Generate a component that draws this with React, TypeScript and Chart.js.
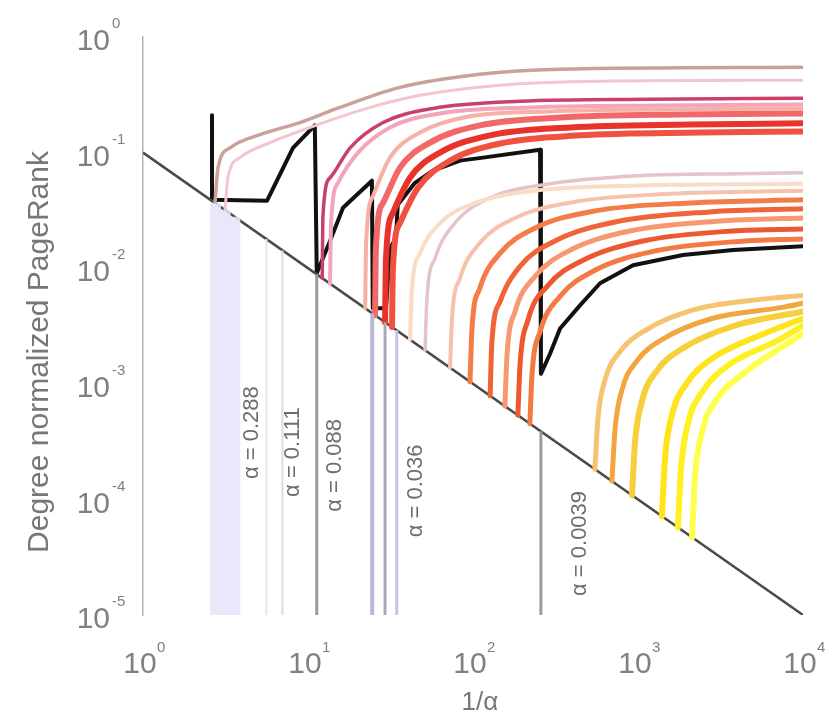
import { useEffect, useRef } from 'react';
import { Chart, registerables } from 'chart.js';

Chart.register(...registerables);

// ---- axis ticks ----
const xTicks = [1, 10, 100, 1000, 10000];
const xTickExp = ['0', '1', '2', '3', '4'];
const yTicks = [1, 0.1, 0.01, 0.001, 0.0001, 0.00001];
const yTickExp = ['0', '-1', '-2', '-3', '-4', '-5'];

// ---- reference diagonal ----
const diagonalX = [1, 10000];
const diagonalY = [0.1, 0.00001];

// ---- vertical alpha markers (from diagonal down to axis) ----
const vlineX = [2.75, 3.15, 3.6, 5.6, 7.0, 11.3, 24.5, 29.3, 34.5, 258];
const vlineTop = [0.0364, 0.0317, 0.0278, 0.0179, 0.0143, 0.00885, 0.00408, 0.00341, 0.0029, 0.000388];
const vlineBottom = 0.00001;
const vlineColor = [
  'rgba(230,230,250,0.9)', 'rgba(230,230,250,0.9)', 'rgba(230,230,250,0.9)',
  '#e6e6e6', '#dcdcdc', '#9a9a9a', '#b8b8d8', '#a8a8b8', '#c4c4e4', '#9a9a9a',
];
const vlineWidth = [11, 11, 11, 2, 2, 3, 4, 3, 3, 3];

// ---- alpha labels ----
const alphaLabels = ['α = 0.288', 'α = 0.111', 'α = 0.088', 'α = 0.036', 'α = 0.0039'];
const alphaLabelX = [4.58, 8.1, 14.6, 45.2, 445];
const alphaLabelY = [0.00015, 0.000105, 0.000078, 0.000047, 0.0000146];

// ---- black highlighted path ----
const blackX = [2.62, 2.62, 5.64, 8.11, 11.0, 11.3, 13.6, 16.3, 24.4, 24.7, 29.7, 31.4, 34.1, 35.0, 44.5, 57.2, 83.4, 115, 255, 258, 293, 337, 445, 589, 933, 1874, 3766, 10000];
const blackY = [0.21, 0.039, 0.0383, 0.11, 0.172, 0.00906, 0.0172, 0.0333, 0.0571, 0.0045, 0.0045, 0.0149, 0.0182, 0.0354, 0.0548, 0.0697, 0.0852, 0.0905, 0.106, 0.00122, 0.00182, 0.00301, 0.00477, 0.00741, 0.0106, 0.013, 0.0144, 0.0155];

// ---- coloured PageRank curves: [1/alpha, value] ----
const T1: [number, number][] = [[2.73, 0.0367], [2.85, 0.0741], [3.37, 0.110], [5.12, 0.143], [8.94, 0.182], [15.6, 0.246], [36.1, 0.367], [110, 0.477], [337, 0.527], [10000, 0.548]];
const T2: [number, number][] = [[3.14, 0.0318], [3.27, 0.0606], [3.87, 0.0905], [5.89, 0.122], [10.3, 0.165], [20.7, 0.232], [47.8, 0.313], [146, 0.383], [589, 0.414], [10000, 0.423]];
const M1: [number, number][] = [[12.2, 0.0082], [12.3, 0.0272], [13.6, 0.0606], [18.0, 0.110], [28.5, 0.182], [57.2, 0.241], [193, 0.278], [1183, 0.289], [10000, 0.295]];
const M2: [number, number][] = [[13.6, 0.00735], [13.8, 0.0246], [15.2, 0.0548], [20.1, 0.1], [31.4, 0.165], [63.1, 0.218], [221, 0.246], [1360, 0.256], [10000, 0.261]];
const R4: [number, number][] = [[22.2, 0.0045], [22.5, 0.0165], [24.8, 0.0423], [31.4, 0.0905], [47.8, 0.149], [95.9, 0.206], [293, 0.227], [1798, 0.237], [10000, 0.241]];
const R1: [number, number][] = [[25.5, 0.00392], [25.8, 0.0149], [28.5, 0.0367], [36.1, 0.0741], [54.9, 0.122], [110, 0.172], [337, 0.201], [1798, 0.214], [10000, 0.218]];
const R2: [number, number][] = [[29.3, 0.00341], [29.7, 0.0122], [32.7, 0.0301], [41.5, 0.0606], [63.1, 0.1], [127, 0.141], [387, 0.165], [2066, 0.175], [10000, 0.179]];
const R3: [number, number][] = [[32.3, 0.0031], [32.7, 0.01], [36.1, 0.0246], [46.4, 0.0496], [72.6, 0.0852], [146, 0.120], [445, 0.141], [2376, 0.149], [10000, 0.152]];
const P2: [number, number][] = [[41.5, 0.00241], [42.7, 0.0067], [47.8, 0.0135], [63.1, 0.0246], [103, 0.0367], [238, 0.0468], [895, 0.0516], [10000, 0.0537]];
const P1: [number, number][] = [[51.2, 0.00195], [52.6, 0.00548], [58.9, 0.0122], [77.8, 0.0246], [127, 0.0406], [293, 0.0537], [1028, 0.0631], [4152, 0.0657], [10000, 0.067]];
const P3: [number, number][] = [[72.6, 0.00138], [74.6, 0.00367], [83.4, 0.00818], [110, 0.0165], [180, 0.0272], [415, 0.0375], [1563, 0.044], [10000, 0.0468]];
const O1: [number, number][] = [[95.9, 0.00104], [98.6, 0.00301], [110, 0.0067], [146, 0.0135], [238, 0.0223], [548, 0.0313], [2066, 0.0367], [10000, 0.039]];
const O2: [number, number][] = [[127, 0.000787], [130, 0.00223], [146, 0.00516], [193, 0.0104], [314, 0.0172], [726, 0.0251], [2730, 0.0307], [10000, 0.0326]];
const O3: [number, number][] = [[156, 0.000641], [161, 0.00182], [180, 0.00423], [238, 0.00851], [387, 0.0143], [895, 0.021], [3141, 0.0256], [10000, 0.0272]];
const O4: [number, number][] = [[187, 0.000535], [193, 0.00149], [215, 0.00353], [285, 0.00711], [464, 0.0117], [1072, 0.0172], [3766, 0.021], [10000, 0.0218]];
const O5: [number, number][] = [[221, 0.000452], [228, 0.00122], [255, 0.00283], [337, 0.00571], [548, 0.0096], [1268, 0.0141], [4450, 0.0172], [10000, 0.0179]];
const Y1: [number, number][] = [[548, 0.000182], [572, 0.000501], [631, 0.00108], [778, 0.0019], [1102, 0.00289], [2215, 0.0044], [5888, 0.00543], [10000, 0.00582]];
const Y2: [number, number][] = [[695, 0.000144], [726, 0.000406], [800, 0.000887], [986, 0.00158], [1397, 0.00241], [2806, 0.00367], [7460, 0.00458], [10000, 0.00497]];
const Y3: [number, number][] = [[920, 0.000109], [960, 0.000316], [1058, 0.000711], [1303, 0.0013], [1849, 0.00201], [3715, 0.00313], [10000, 0.00423]];
const Y4: [number, number][] = [[1397, 0.0000716], [1458, 0.000227], [1607, 0.000537], [1982, 0.00102], [2806, 0.00165], [5646, 0.00267], [10000, 0.00367]];
const Y5: [number, number][] = [[1746, 0.0000573], [1824, 0.000186], [2009, 0.000454], [2477, 0.000869], [3512, 0.00144], [7050, 0.00237], [10000, 0.00319]];
const Y6: [number, number][] = [[2125, 0.000047], [2215, 0.000154], [2443, 0.000383], [3013, 0.000741], [4266, 0.0012], [10000, 0.00272]];

const curves: { pts: [number, number][]; color: string; width: number }[] = [
  { pts: T2, color: '#f2c6ce', width: 3 },
  { pts: T1, color: '#c9a29a', width: 3.5 },
  { pts: M2, color: '#f4a6b8', width: 4 },
  { pts: M1, color: '#c8406e', width: 3.5 },
  { pts: R4, color: '#f7b0a8', width: 4 },
  { pts: R1, color: '#f26868', width: 6 },
  { pts: R2, color: '#e8322a', width: 6 },
  { pts: R3, color: '#f05040', width: 6 },
  { pts: P2, color: '#f8dcc8', width: 4 },
  { pts: P1, color: '#e4c4c8', width: 3.5 },
  { pts: P3, color: '#f6c2ac', width: 4 },
  { pts: O1, color: '#f47c48', width: 5 },
  { pts: O2, color: '#f06438', width: 5 },
  { pts: O3, color: '#f89870', width: 5 },
  { pts: O4, color: '#ee5830', width: 5 },
  { pts: O5, color: '#f47a44', width: 5 },
  { pts: Y1, color: '#f6c470', width: 5 },
  { pts: Y2, color: '#f1a640', width: 5 },
  { pts: Y3, color: '#f6cf3a', width: 6 },
  { pts: Y4, color: '#ffe41c', width: 6 },
  { pts: Y5, color: '#fff024', width: 6 },
  { pts: Y6, color: '#ffff50', width: 6 },
];

const FONT = 'Arial, "Liberation Sans", sans-serif';

const overlay = {
  id: 'overlay',
  beforeDatasetsDraw(chart: any) {
    const { ctx } = chart;
    const xs = chart.scales.x;
    const ys = chart.scales.y;
    ctx.save();
    ctx.font = `22px ${FONT}`;
    ctx.fillStyle = '#6e6e6e';
    ctx.textAlign = 'left';
    ctx.textBaseline = 'middle';
    alphaLabels.forEach((t, i) => {
      const px = xs.getPixelForValue(alphaLabelX[i]);
      const py = ys.getPixelForValue(alphaLabelY[i]);
      ctx.save();
      ctx.translate(px, py);
      ctx.rotate(-Math.PI / 2);
      ctx.fillText(t, 0, 0);
      ctx.restore();
    });
    ctx.restore();
  },
  afterDraw(chart: any) {
    const { ctx, chartArea } = chart;
    const xs = chart.scales.x;
    const ys = chart.scales.y;
    ctx.save();
    ctx.fillStyle = '#808080';
    ctx.textBaseline = 'middle';
    yTicks.forEach((v, i) => {
      const py = ys.getPixelForValue(v);
      ctx.font = `30px ${FONT}`;
      ctx.textAlign = 'right';
      ctx.fillText('10', chartArea.left - 33, py + 5);
      ctx.font = `15px ${FONT}`;
      ctx.textAlign = 'left';
      ctx.fillText(yTickExp[i], chartArea.left - 31, py - 13);
    });
    xTicks.forEach((v, i) => {
      const px = xs.getPixelForValue(v);
      ctx.font = `30px ${FONT}`;
      ctx.textAlign = 'center';
      ctx.fillText('10', px - 3, chartArea.bottom + 50);
      ctx.font = `15px ${FONT}`;
      ctx.textAlign = 'left';
      ctx.fillText(xTickExp[i], px + 14, chartArea.bottom + 33);
    });
    ctx.fillStyle = '#777777';
    ctx.font = `30px ${FONT}`;
    ctx.textAlign = 'center';
    ctx.save();
    ctx.translate(40, (chartArea.top + chartArea.bottom) / 2 + 26);
    ctx.rotate(-Math.PI / 2);
    ctx.fillText('Degree normalized PageRank', 0, 0);
    ctx.restore();
    ctx.font = `26px ${FONT}`;
    ctx.fillText('1/α', xs.getPixelForValue(110), chartArea.bottom + 88);
    ctx.restore();
  },
};

export default function App() {
  const ref = useRef<HTMLCanvasElement | null>(null);

  useEffect(() => {
    if (!ref.current) return;
    const datasets: any[] = [];
    vlineX.forEach((vx, i) => {
      datasets.push({
        data: [{ x: vx, y: vlineTop[i] }, { x: vx, y: vlineBottom }],
        borderColor: vlineColor[i],
        borderWidth: vlineWidth[i],
        showLine: true,
        pointRadius: 0,
        borderCapStyle: 'butt',
      });
    });
    curves.forEach((c) => {
      datasets.push({
        data: c.pts.map(([x, y]) => ({ x, y })),
        borderColor: c.color,
        borderWidth: c.width,
        showLine: true,
        pointRadius: 0,
        cubicInterpolationMode: 'monotone',
        borderCapStyle: 'round',
      });
    });
    datasets.push({
      data: diagonalX.map((x, i) => ({ x, y: diagonalY[i] })),
      borderColor: '#4a4a4a',
      borderWidth: 2.5,
      showLine: true,
      pointRadius: 0,
    });
    datasets.push({
      data: blackX.map((x, i) => ({ x, y: blackY[i] })),
      borderColor: '#111111',
      borderWidth: 4,
      showLine: true,
      pointRadius: 0,
      borderJoinStyle: 'round',
      borderCapStyle: 'round',
    });

    const chart = new Chart(ref.current, {
      type: 'scatter',
      data: { datasets },
      options: {
        animation: false,
        responsive: false,
        events: [],
        layout: { padding: { left: 0, top: 37, right: 25, bottom: 0 } },
        plugins: { legend: { display: false }, tooltip: { enabled: false } },
        scales: {
          x: {
            type: 'logarithmic',
            min: 1,
            max: 10000,
            grid: { display: false, drawTicks: false },
            border: { display: false },
            ticks: { display: false },
            afterFit: (s: any) => { s.height = 100; },
          },
          y: {
            type: 'logarithmic',
            min: 0.00001,
            max: 1,
            grid: { display: false, drawTicks: false },
            border: { display: true, color: '#b4b4b4', width: 1.5 },
            ticks: { display: false },
            afterFit: (s: any) => { s.width = 143; },
          },
        },
      },
      plugins: [overlay],
    });
    return () => chart.destroy();
  }, []);

  return (
    <div style={{ position: 'absolute', left: 0, top: 0, width: 828, height: 715, background: '#fff' }}>
      <canvas ref={ref} width={828} height={715} />
    </div>
  );
}
